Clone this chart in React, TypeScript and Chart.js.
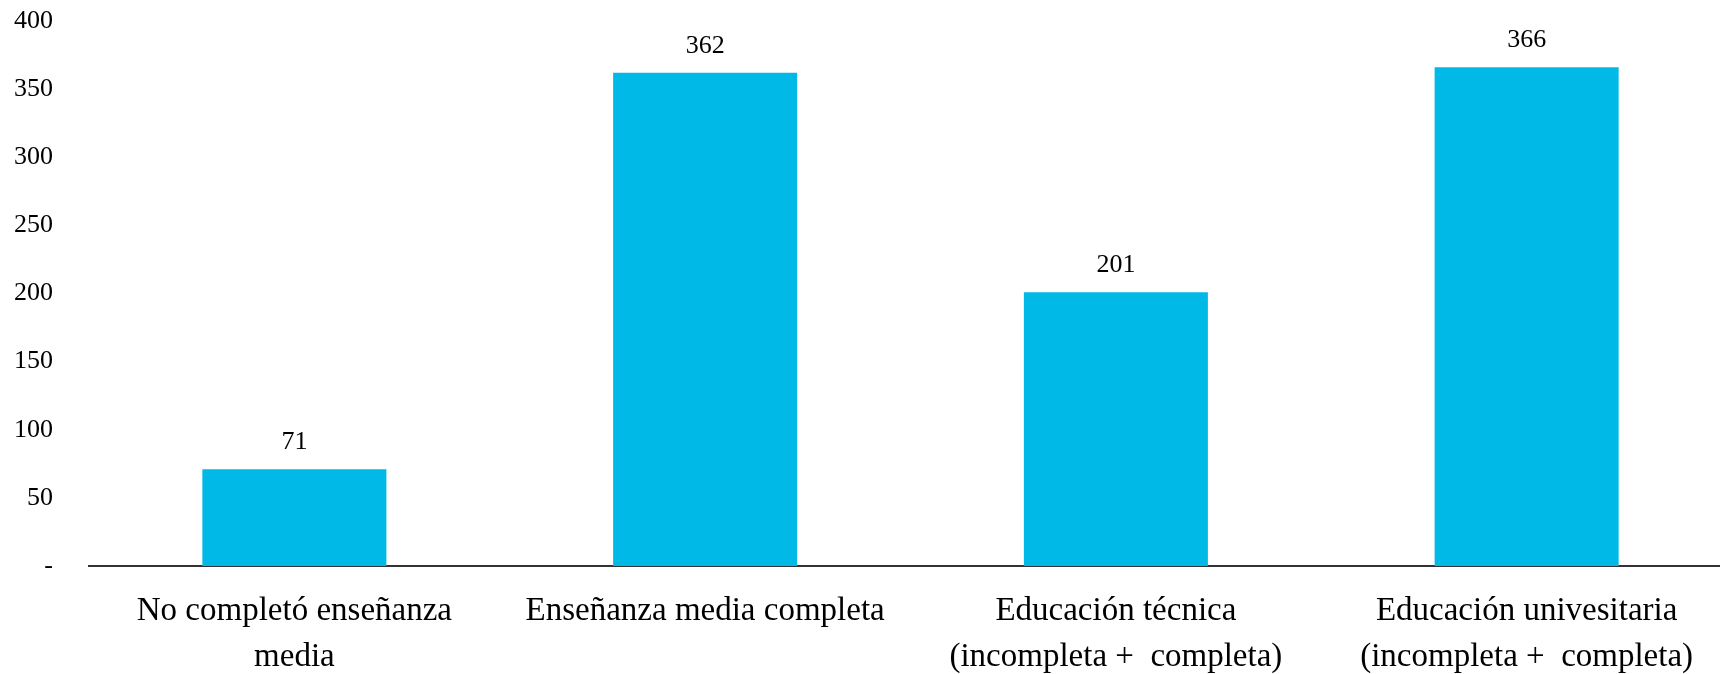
import React, { useEffect, useRef } from "react";
import { Chart, registerables } from "chart.js";

Chart.register(...registerables);

const categories: string[][] = [
  ["No completó enseñanza", "media"],
  ["Enseñanza media completa"],
  ["Educación técnica", "(incompleta +  completa)"],
  ["Educación univesitaria", "(incompleta +  completa)"],
];
const values: number[] = [71, 362, 201, 366];
const yTicks: number[] = [0, 50, 100, 150, 200, 250, 300, 350, 400];

const BAR_COLOR = "#00B9E7";
const TICK_FONT = { family: "'Liberation Serif', serif", size: 26 };
const CAT_FONT = { family: "'Liberation Serif', serif", size: 33, lineHeight: 46 / 33 };

const valueLabels = {
  id: "valueLabels",
  afterDatasetsDraw(chart: any) {
    const ctx = chart.ctx;
    const meta = chart.getDatasetMeta(0);
    ctx.save();
    ctx.font = `${TICK_FONT.size}px ${TICK_FONT.family}`;
    ctx.fillStyle = "#000";
    ctx.textAlign = "center";
    ctx.textBaseline = "middle";
    meta.data.forEach((bar: any, i: number) => {
      ctx.fillText(String(values[i]), bar.x, bar.y - 27);
    });
    ctx.restore();
  },
};

export default function App() {
  const ref = useRef<HTMLCanvasElement>(null);
  useEffect(() => {
    if (!ref.current) return;
    const chart = new Chart(ref.current, {
      type: "bar",
      data: {
        labels: categories,
        datasets: [
          {
            data: values,
            backgroundColor: BAR_COLOR,
            borderWidth: 0,
            categoryPercentage: 1,
            barPercentage: 0.448,
          },
        ],
      },
      options: {
        responsive: false,
        animation: false,
        devicePixelRatio: 1,
        layout: { padding: { top: 21, right: 8, bottom: 0, left: 0 } },
        plugins: { legend: { display: false }, tooltip: { enabled: false } },
        scales: {
          x: {
            grid: { display: false, drawTicks: false },
            border: { display: true, color: "#333333", width: 2 },
            ticks: {
              color: "#000",
              font: CAT_FONT,
              padding: 22,
              maxRotation: 0,
              autoSkip: false,
            },
            afterFit(scale: any) {
              scale.height = 108;
              scale.paddingLeft = 0;
              scale.paddingRight = 0;
            },
          },
          y: {
            min: 0,
            max: 400,
            grid: { display: false, drawTicks: false },
            border: { display: false },
            afterBuildTicks(scale: any) {
              scale.ticks = yTicks.map((v) => ({ value: v }));
            },
            ticks: {
              color: "#000",
              font: TICK_FONT,
              padding: 36,
              callback: (v: any) => (Number(v) === 0 ? "-" : String(v)),
            },
            afterFit(scale: any) {
              scale.width = 89;
              scale.paddingTop = 0;
              scale.paddingBottom = 0;
            },
          },
        },
      },
      plugins: [valueLabels],
    });
    return () => chart.destroy();
  }, []);
  return (
    <div style={{ position: "absolute", left: 0, top: 0, width: 1720, height: 674, overflow: "hidden", background: "#fff" }}>
      <canvas ref={ref} width={1740} height={674} style={{ display: "block" }} />
    </div>
  );
}
